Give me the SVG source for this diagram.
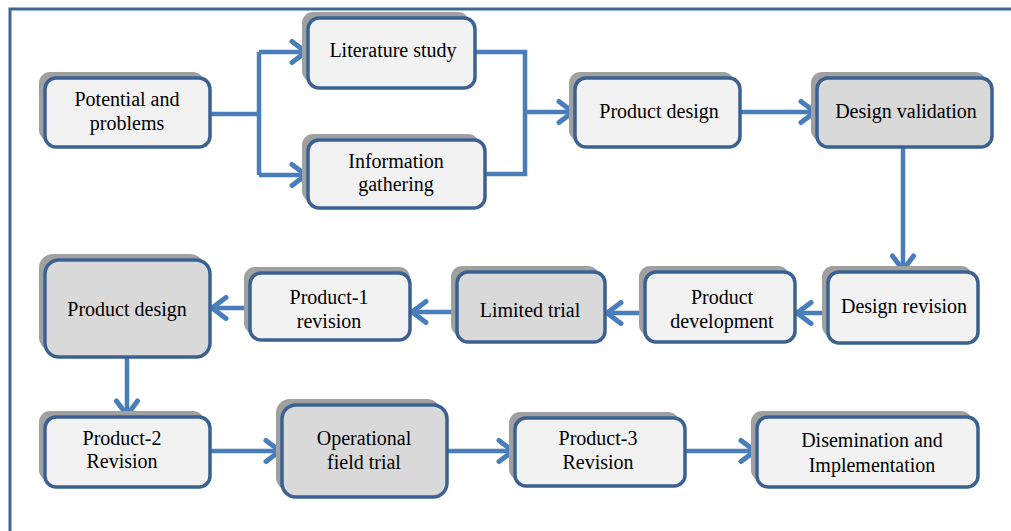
<svg xmlns="http://www.w3.org/2000/svg" width="1011" height="531" viewBox="0 0 1011 531">
<style>
.sh{fill:#a0a0a0}
.bx{fill:#f2f2f2;stroke:#3b6193;stroke-width:3.5}
.gr{fill:#d9d9d9}
.t{font-family:"Liberation Serif","Times New Roman",serif;font-size:20px;fill:#000;text-anchor:middle}
.c{fill:none;stroke:#4a7ebb;stroke-width:4.5}
.frame{fill:none;stroke:#3f6695;stroke-width:3}
</style>
<defs>
<marker id="ah" viewBox="0 0 20 26" refX="17" refY="13" markerWidth="20" markerHeight="26" markerUnits="userSpaceOnUse" orient="auto" overflow="visible">
<path d="M3,2.5 L17,13 L3,23.5" fill="none" stroke="#4a7ebb" stroke-width="5" stroke-linecap="round" stroke-linejoin="miter"/>
</marker>
</defs>
<path class="frame" d="M10,531 V9 H1011"/>
<g id="connectors">
<path class="c" d="M210,114 H259"/>
<path class="c" d="M259,52 V175"/>
<path class="c" d="M259,52 H306" marker-end="url(#ah)"/>
<path class="c" d="M259,175 H306" marker-end="url(#ah)"/>
<path class="c" d="M475,52 H525 V174 H475"/>
<path class="c" d="M525,112 H573" marker-end="url(#ah)"/>
<path class="c" d="M740,112 H815" marker-end="url(#ah)"/>
<path class="c" d="M903,147 V270" marker-end="url(#ah)"/>
<path class="c" d="M828,313 H797" marker-end="url(#ah)"/>
<path class="c" d="M645,313 H607" marker-end="url(#ah)"/>
<path class="c" d="M457,312 H412" marker-end="url(#ah)"/>
<path class="c" d="M250,308 H212" marker-end="url(#ah)"/>
<path class="c" d="M127,357 V415" marker-end="url(#ah)"/>
<path class="c" d="M210,451 H280" marker-end="url(#ah)"/>
<path class="c" d="M447,451 H513" marker-end="url(#ah)"/>
<path class="c" d="M685,451 H755" marker-end="url(#ah)"/>
</g>
<g id="n-potential">
<rect class="sh" x="39" y="72" width="165" height="69" rx="11"/>
<rect class="bx" x="45" y="78" width="165" height="69" rx="11"/>
<text class="t" x="127" y="106">Potential and</text>
<text class="t" x="127" y="130">problems</text>
</g>
<g id="n-literature">
<rect class="sh" x="302" y="12" width="167" height="70" rx="11"/>
<rect class="bx" x="308" y="18" width="167" height="70" rx="11"/>
<text class="t" x="393" y="57">Literature study</text>
</g>
<g id="n-information">
<rect class="sh" x="302" y="134" width="177" height="68" rx="11"/>
<rect class="bx" x="308" y="140" width="177" height="68" rx="11"/>
<text class="t" x="396" y="168">Information</text>
<text class="t" x="396" y="191">gathering</text>
</g>
<g id="n-product-design-1">
<rect class="sh" x="569" y="72" width="165" height="69" rx="11"/>
<rect class="bx" x="575" y="78" width="165" height="69" rx="11"/>
<text class="t" x="659" y="118">Product design</text>
</g>
<g id="n-design-validation">
<rect class="sh" x="811" y="72" width="175" height="69" rx="11"/>
<rect class="bx gr" x="817" y="78" width="175" height="69" rx="11"/>
<text class="t" x="906" y="118">Design validation</text>
</g>
<g id="n-design-revision">
<rect class="sh" x="822" y="266" width="150" height="71" rx="11"/>
<rect class="bx" x="828" y="272" width="150" height="71" rx="11"/>
<text class="t" x="904" y="313">Design revision</text>
</g>
<g id="n-product-development">
<rect class="sh" x="639" y="266" width="150" height="70" rx="11"/>
<rect class="bx" x="645" y="272" width="150" height="70" rx="11"/>
<text class="t" x="722" y="304">Product</text>
<text class="t" x="722" y="328">development</text>
</g>
<g id="n-limited-trial">
<rect class="sh" x="451" y="266" width="148" height="70" rx="11"/>
<rect class="bx gr" x="457" y="272" width="148" height="70" rx="11"/>
<text class="t" x="530" y="317">Limited trial</text>
</g>
<g id="n-product1-revision">
<rect class="sh" x="244" y="267" width="166" height="67" rx="11"/>
<rect class="bx" x="250" y="273" width="160" height="67" rx="11"/>
<text class="t" x="329" y="304">Product-1</text>
<text class="t" x="329" y="328">revision</text>
</g>
<g id="n-product-design-2">
<rect class="sh" x="39" y="254" width="165" height="97" rx="14"/>
<rect class="bx gr" x="45" y="260" width="165" height="97" rx="14"/>
<text class="t" x="127" y="316">Product design</text>
</g>
<g id="n-product2-revision">
<rect class="sh" x="39" y="411" width="165" height="70" rx="11"/>
<rect class="bx" x="45" y="417" width="165" height="70" rx="11"/>
<text class="t" x="122" y="445">Product-2</text>
<text class="t" x="122" y="468">Revision</text>
</g>
<g id="n-operational">
<rect class="sh" x="276" y="399" width="165" height="92" rx="14"/>
<rect class="bx gr" x="282" y="405" width="165" height="92" rx="14"/>
<text class="t" x="364" y="445">Operational</text>
<text class="t" x="364" y="469">field trial</text>
</g>
<g id="n-product3-revision">
<rect class="sh" x="509" y="412" width="170" height="68" rx="11"/>
<rect class="bx" x="515" y="418" width="170" height="68" rx="11"/>
<text class="t" x="598" y="445">Product-3</text>
<text class="t" x="598" y="469">Revision</text>
</g>
<g id="n-dissemination">
<rect class="sh" x="751" y="411" width="221" height="70" rx="11"/>
<rect class="bx" x="757" y="417" width="221" height="70" rx="11"/>
<text class="t" x="872" y="447">Disemination and</text>
<text class="t" x="872" y="472">Implementation</text>
</g>
</svg>
